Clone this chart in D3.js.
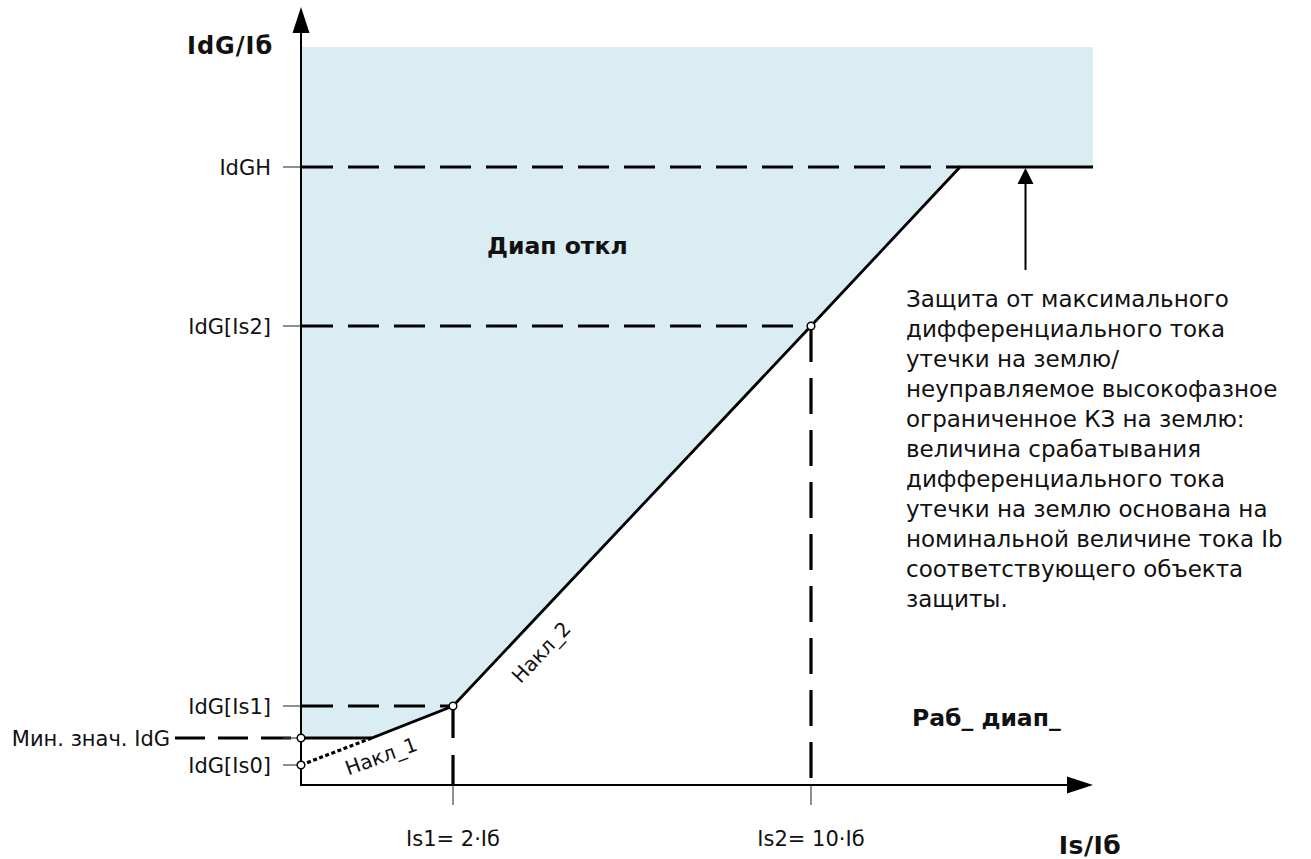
<!DOCTYPE html>
<html><head><meta charset="utf-8">
<script src="https://cdn.jsdelivr.net/npm/d3@7"></script>
<style>body{margin:0;background:#fff}svg{display:block}text{font-family:"DejaVu Sans",sans-serif;fill:#111}</style>
</head><body>
<svg id="c" width="1311" height="859"></svg>
<script>
// Schematic values (units of Iб)
const xTickValues = [2, 10];
const xTickLabels = ["Is1= 2·Iб", "Is2= 10·Iб"];
const yTickValues = [2.0, 4.7, 7.9, 45.9, 61.8];
const yTickLabels = ["IdG[Is0]", "Мин. знач. IdG", "IdG[Is1]", "IdG[Is2]", "IdGH"];
const yTop = 73.8;      // top of trip region
const xMax = 16.3;      // right end of chart
// characteristic points (Is, IdG)
const curveX = [0, 0.93, 2, 10, 13.33, 16.3];
const curveY = [4.7, 4.7, 7.9, 45.9, 61.8, 61.8];
const slope1X = [0, 0.93];
const slope1Y = [2.0, 4.7];
const markerX = [0, 0, 2, 10];
const markerY = [4.7, 2.0, 7.9, 45.9];
const noteLines = ["Защита от максимального","дифференциального тока","утечки на землю/","неуправляемое высокофазное","ограниченное КЗ на землю:","величина срабатывания","дифференциального тока","утечки на землю основана на","номинальной величине тока Ib","соответствующего объекта","защиты."];

const svg = d3.select("#c");
const x = d3.scaleLinear().domain([0, 2, 10, xMax]).range([301, 453, 811, 1093]);
const y = d3.scaleLinear().domain([0, yTop]).range([785, 47]);

// fill region
const area = [[0, yTop]].concat(curveX.map((v,i)=>[v, curveY[i]])).concat([[xMax, yTop]]);
svg.append("path").attr("d", d3.line().x(d=>x(d[0])).y(d=>y(d[1]))(area)+"Z")
  .attr("fill", "#daedf3");

// dashed guide lines
const g = svg.append("g").attr("stroke","#000").attr("stroke-width",3.2).attr("stroke-dasharray","31,15").attr("fill","none");
g.append("line").attr("x1",x(0)+1).attr("x2",x(curveX[4])).attr("y1",y(61.8)).attr("y2",y(61.8));
g.append("line").attr("x1",x(0)+1).attr("x2",x(10)).attr("y1",y(45.9)).attr("y2",y(45.9));
g.append("line").attr("x1",x(0)+1).attr("x2",x(2)).attr("y1",y(7.9)).attr("y2",y(7.9));
g.append("line").attr("x1",175).attr("x2",x(0)).attr("y1",y(4.7)).attr("y2",y(4.7)).attr("stroke-dasharray","30,13");
g.append("line").attr("x1",x(10)).attr("x2",x(10)).attr("y1",y(45.9)).attr("y2",y(0)).attr("stroke-dasharray","36,16");
g.append("line").attr("x1",x(2)).attr("x2",x(2)).attr("y1",y(7.9)).attr("y2",y(0)).attr("stroke-dasharray","32,17");

// tick marks
const tk = svg.append("g").attr("stroke","#444").attr("stroke-width",1.2);
yTickValues.forEach(v=>tk.append("line").attr("x1",283).attr("x2",301).attr("y1",y(v)).attr("y2",y(v)));
xTickValues.forEach(v=>tk.append("line").attr("x1",x(v)).attr("x2",x(v)).attr("y1",785).attr("y2",805));

// axes
svg.append("line").attr("x1",301).attr("x2",301).attr("y1",786).attr("y2",30).attr("stroke","#000").attr("stroke-width",2);
svg.append("line").attr("x1",300).attr("x2",1070).attr("y1",785).attr("y2",785).attr("stroke","#000").attr("stroke-width",2);
svg.append("path").attr("d","M301,7 L292.5,33 L309.5,33 Z").attr("fill","#000");
svg.append("path").attr("d","M1093,785 L1067,776.5 L1067,793.5 Z").attr("fill","#000");

// characteristic
svg.append("path").attr("d", d3.line().x(d=>x(d)).y((d,i)=>y(curveY[i]))(curveX))
  .attr("fill","none").attr("stroke","#000").attr("stroke-width",2.8);
svg.append("path").attr("d", d3.line().x(d=>x(d)).y((d,i)=>y(slope1Y[i]))(slope1X))
  .attr("fill","none").attr("stroke","#000").attr("stroke-width",3.2).attr("stroke-dasharray","4,2.5");

// markers
markerX.forEach((v,i)=>svg.append("circle").attr("cx",x(v)).attr("cy",y(markerY[i])).attr("r",3.8)
  .attr("fill","#fff").attr("stroke","#000").attr("stroke-width",1.5));

// up arrow annotation
const ay = y(61.8);
svg.append("line").attr("x1",1025.5).attr("x2",1025.5).attr("y1",270).attr("y2",ay+14).attr("stroke","#000").attr("stroke-width",2);
svg.append("path").attr("d",`M1025.5,${ay+1} L1017.5,${ay+17} L1033.5,${ay+17} Z`).attr("fill","#000");

// y labels
yTickValues.forEach((v,i)=>{
  svg.append("text").attr("x", i===1 ? 170 : 271).attr("y", y(v)).attr("dy","0.36em")
    .attr("text-anchor","end").attr("font-size",21).text(yTickLabels[i]);
});
// x labels
xTickValues.forEach((v,i)=>{
  svg.append("text").attr("x", x(v)).attr("y", 838).attr("dy","0.36em")
    .attr("text-anchor","middle").attr("font-size",21).text(xTickLabels[i]);
});

// axis titles
svg.append("text").attr("x",187).attr("y",45).attr("dy","0.36em").attr("font-size",24).attr("letter-spacing",1).attr("font-weight","bold").text("IdG/Iб");
svg.append("text").attr("x",1090).attr("y",845).attr("dy","0.36em").attr("text-anchor","middle").attr("font-size",25).attr("letter-spacing",0.5).attr("font-weight","bold").text("Is/Iб");

// region labels
svg.append("text").attr("x",487).attr("y",246).attr("dy","0.36em").attr("font-size",23.5).attr("font-weight","bold").text("Диап откл");
svg.append("text").attr("x",912).attr("y",718).attr("dy","0.36em").attr("font-size",23.5).attr("font-weight","bold").text("Раб_ диап_");

// slope labels
svg.append("text").attr("transform","translate(541,652) rotate(-46.7)").attr("text-anchor","middle").attr("dy","0.36em").attr("font-size",20).text("Накл_2");
svg.append("text").attr("transform","translate(381,756) rotate(-20)").attr("text-anchor","middle").attr("dy","0.36em").attr("font-size",20).text("Накл_1");

// note
const nt = svg.append("text").attr("font-size",23);
noteLines.forEach((l,i)=>nt.append("tspan").attr("x",906).attr("y",307+i*30).text(l));
</script>
</body></html>
